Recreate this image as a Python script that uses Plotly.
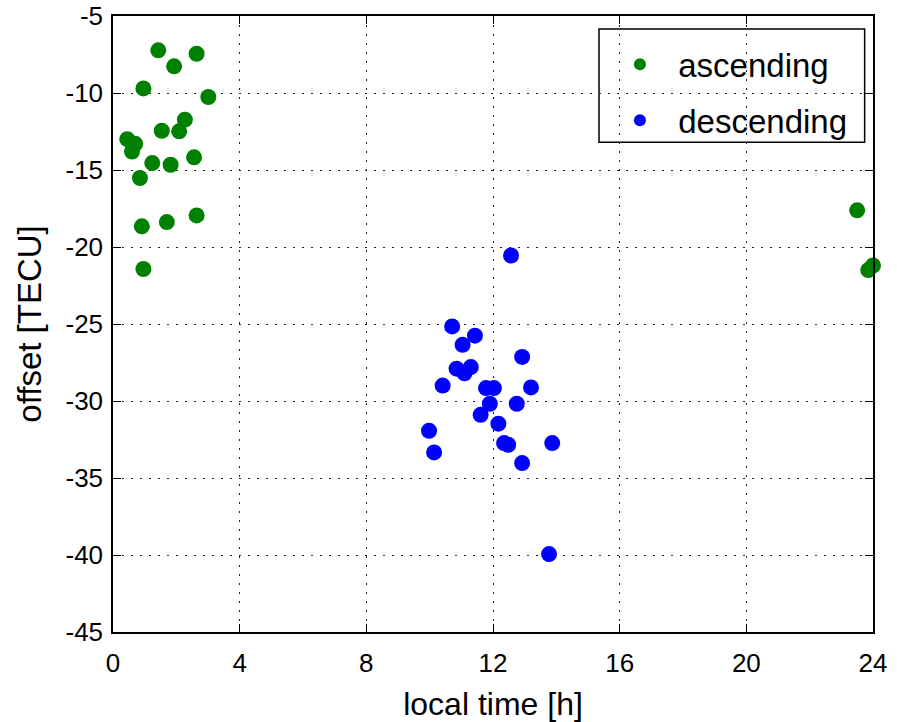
import plotly.graph_objects as go

asc_time = [1.43, 2.64, 1.93, 0.96, 3.01, 2.27, 1.54, 2.09, 0.45, 0.70, 0.60,
            1.24, 1.82, 2.56, 0.85, 2.64, 1.70, 0.91, 0.96, 23.50, 23.85, 24.0]
asc_offset = [-7.23, -7.45, -8.27, -9.70, -10.26, -11.73, -12.45, -12.49, -13.0, -13.3, -13.8,
              -14.55, -14.66, -14.18, -15.52, -17.95, -18.38, -18.66, -21.43, -17.62, -21.5, -21.2]

desc_time = [12.57, 10.71, 11.43, 11.04, 12.92, 10.85, 11.30, 11.10, 10.41, 11.78, 12.03,
             13.20, 11.90, 12.75, 11.61, 12.17, 9.98, 12.35, 12.48, 13.87, 10.14, 12.92, 13.77]
desc_offset = [-20.55, -25.16, -25.76, -26.35, -27.14, -27.9, -27.8, -28.2, -29.0, -29.16, -29.16,
               -29.12, -30.18, -30.18, -30.9, -31.47, -31.93, -32.73, -32.84, -32.73, -33.34, -34.03, -39.94]

x_ticks = [0, 4, 8, 12, 16, 20, 24]
y_ticks = [-5, -10, -15, -20, -25, -30, -35, -40, -45]

FONT = "Liberation Sans, Arial, sans-serif"
NB = "\u00a0\u00a0"

fig = go.Figure()
fig.add_trace(go.Scatter(x=asc_time, y=asc_offset, mode="markers", name=NB + "ascending",
                         legendgroup="a", cliponaxis=False,
                         marker=dict(color="#008000", size=16, line=dict(width=0))))
fig.add_trace(go.Scatter(x=desc_time, y=desc_offset, mode="markers", name=NB + "descending",
                         legendgroup="d", cliponaxis=False,
                         marker=dict(color="#0000FF", size=16, line=dict(width=0))))

axis_common = dict(showline=True, linecolor="black", linewidth=1.5, mirror="ticks",
                   ticks="inside", ticklen=8, tickcolor="black", tickwidth=1.2,
                   showgrid=True, gridcolor="#222222", griddash="2px,7px", gridwidth=1.2,
                   zeroline=False, automargin=False,
                   tickfont=dict(family=FONT, size=26, color="black"))

fig.update_xaxes(range=[0, 24], tickvals=x_ticks, ticktext=[str(v) for v in x_ticks],
                 ticklabelstandoff=7,
                 title=dict(text="local time [h]", font=dict(family=FONT, size=32, color="black"),
                            standoff=18),
                 **axis_common)
fig.update_yaxes(range=[-45, -5], tickvals=y_ticks, ticktext=[str(v) for v in y_ticks],
                 ticklabelstandoff=3,
                 title=dict(text="offset [TECU]", font=dict(family=FONT, size=33, color="black"),
                            standoff=14),
                 **axis_common)

# legend box (paper coordinates)
fig.add_shape(type="rect", xref="paper", yref="paper",
              x0=0.6395, x1=0.989, y0=0.795, y1=0.979,
              line=dict(color="black", width=1.5), fillcolor="white", layer="between")

fig.update_layout(
    width=897, height=722,
    margin=dict(l=113, r=24, t=16, b=90),
    plot_bgcolor="white", paper_bgcolor="white",
    legend=dict(x=0.667, y=0.967, xanchor="left", yanchor="top",
                borderwidth=0, bgcolor="rgba(0,0,0,0)",
                font=dict(family=FONT, size=33, color="black"),
                traceorder="grouped", tracegroupgap=10, itemsizing="constant"),
)

fig.write_html("out.html")
